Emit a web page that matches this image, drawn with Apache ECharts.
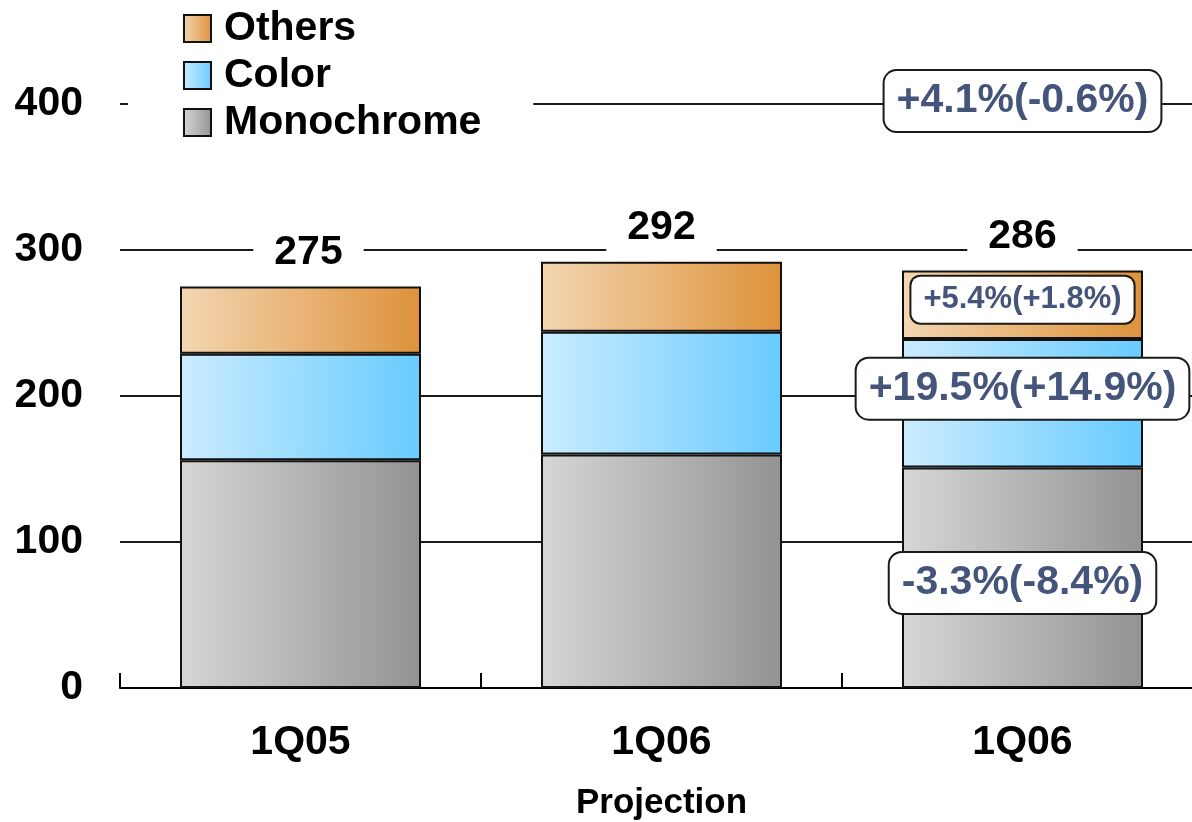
<!DOCTYPE html>
<html>
<head>
<meta charset="utf-8">
<script src="https://cdn.jsdelivr.net/npm/echarts@6/dist/echarts.min.js"></script>
<style>
html,body{margin:0;padding:0;background:#fff;}
#chart{width:1192px;height:822px;}
</style>
</head>
<body>
<div id="chart"></div>
<script>
const categories = ['1Q05', '1Q06', '1Q06'];
const categoryNotes = ['', 'Projection', ''];
const seriesNames = ['Monochrome', 'Color', 'Others'];
const monochrome = [156, 160, 151];
const colorUnits = [73, 84, 88];
const others = [46, 48, 47];
const totals = [275, 292, 286];
const yTicks = [0, 100, 200, 300, 400];
const annotationTexts = ['+4.1%(-0.6%)', '+5.4%(+1.8%)', '+19.5%(+14.9%)', '-3.3%(-8.4%)'];
const annotationValues = [402, 266, 205, 72];
const annotationCategory = [2, 2, 2, 2];

const FONT = 'Arial, "Liberation Sans", Helvetica, sans-serif';

function grad(a, b) {
  return {type: 'linear', x: 0, y: 0, x2: 1, y2: 0,
    colorStops: [{offset: 0, color: a}, {offset: 1, color: b}]};
}
const barBorder = {borderColor: '#111', borderWidth: 2};

const chart = echarts.init(document.getElementById('chart'));

const annoData = annotationTexts.map((t, i) => {
  const small = i === 1;
  return {
    value: [annotationCategory[i], annotationValues[i]],
    label: {
      show: true,
      position: 'inside',
      formatter: t,
      opacity: 1,
      fontFamily: FONT,
      fontWeight: 'bold',
      fontSize: small ? 31 : 41,
      lineHeight: small ? 30 : 40,
      color: '#44547a',
      backgroundColor: '#ffffff',
      borderColor: '#1a1a1a',
      borderWidth: 2,
      borderRadius: small ? 9 : 12,
      padding: small ? [8, 12, 8, 12] : [10, 12, 10, 12]
    }
  };
});

// first total label sits slightly right of its bar centre in the original
const othersData = others.map((v, i) => i === 0 ? {value: v, label: {offset: [8, 0]}} : v);

chart.setOption({
  animation: false,
  backgroundColor: '#ffffff',
  grid: {left: 120, width: 1083, top: 104, bottom: 134, containLabel: false, outerBoundsMode: 'none'},
  legend: {
    data: ['Others', 'Color', 'Monochrome'],
    orient: 'vertical',
    left: 128,
    top: 2,
    padding: [6, 52, 8, 55],
    backgroundColor: '#ffffff',
    itemWidth: 27,
    itemHeight: 27,
    itemGap: 6,
    icon: 'rect',
    selectedMode: false,
    textStyle: {fontFamily: FONT, fontWeight: 'bold', fontSize: 41, lineHeight: 40, color: '#000', padding: [0, 0, 0, 8]}
  },
  xAxis: {
    type: 'category',
    data: categories,
    axisLine: {lineStyle: {color: '#000', width: 2}},
    axisTick: {show: true, inside: true, length: 15, lineStyle: {color: '#000', width: 2}},
    axisLabel: {
      margin: 33,
      formatter: (v, i) => categoryNotes[i] ? '{a|' + v + '}\n{b|' + categoryNotes[i] + '}' : '{a|' + v + '}',
      rich: {
        a: {fontFamily: FONT, fontWeight: 'bold', fontSize: 41, lineHeight: 44, color: '#000'},
        b: {fontFamily: FONT, fontWeight: 'bold', fontSize: 35, lineHeight: 76, color: '#000'}
      }
    },
    splitLine: {show: false}
  },
  yAxis: {
    type: 'value',
    min: yTicks[0],
    max: yTicks[yTicks.length - 1],
    interval: yTicks[1] - yTicks[0],
    axisLine: {show: false},
    axisTick: {show: false},
    axisLabel: {margin: 37, fontFamily: FONT, fontWeight: 'bold', fontSize: 41, color: '#000'},
    splitLine: {show: true, lineStyle: {color: '#1a1a1a', width: 2}}
  },
  series: [
    {
      name: seriesNames[0], type: 'bar', stack: 'total', barWidth: 241, data: monochrome,
      itemStyle: Object.assign({color: grad('#d6d6d6', '#939393')}, barBorder)
    },
    {
      name: seriesNames[1], type: 'bar', stack: 'total', barWidth: 241, data: colorUnits,
      itemStyle: Object.assign({color: grad('#cbecff', '#68cbff')}, barBorder)
    },
    {
      name: seriesNames[2], type: 'bar', stack: 'total', barWidth: 241, data: othersData,
      itemStyle: Object.assign({color: grad('#f3d6b2', '#de923a')}, barBorder),
      label: {
        show: true,
        position: 'top',
        distance: 2,
        formatter: p => String(totals[p.dataIndex]),
        fontFamily: FONT, fontWeight: 'bold', fontSize: 41, lineHeight: 40, color: '#000',
        backgroundColor: '#ffffff',
        padding: [4, 21, 12, 21]
      }
    },
    {
      name: 'annotations', type: 'scatter', z: 10, symbolSize: 1, clip: false,
      itemStyle: {color: 'rgba(0,0,0,0)', opacity: 1},
      data: annoData,
      silent: true
    }
  ]
});
</script>
</body>
</html>
